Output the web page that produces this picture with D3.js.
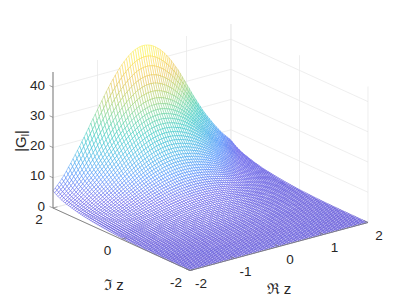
<!DOCTYPE html>
<html><head><meta charset="utf-8">
<style>html,body{margin:0;padding:0;background:#fff}svg{display:block}text{font-family:"Liberation Sans",sans-serif;font-size:13.5px;fill:#262626}text.lab{font-size:15px}</style>
<script src="https://cdn.jsdelivr.net/npm/d3@7"></script></head><body>
<script>
const reTicks=[-2,-1,0,1,2];
const imTicks=[-2,0,2];
const zTicks=[0,10,20,30,40];
const edgeHeight=[5.7,6.4,7.2,8.0,8.9,9.9,11.0,12.2,13.3,14.5,15.7,
16.9,18.1,19.4,20.7,22.0,23.3,24.7,26.0,27.3,28.6,
29.9,31.2,32.5,33.8,35.0,36.2,37.3,38.4,39.4,40.4,
41.3,42.1,42.9,43.6,44.2,44.7,45.1,45.4,45.6,45.7,
45.7,45.6,45.4,45.1,44.7,44.2,43.6,43.0,42.2,41.4,
40.5,39.5,38.4,37.2,36.0,34.8,33.4,32.0,30.6,29.1,
27.7,26.2,24.8,23.4,22.0,20.7,19.4,18.2,17.0,15.9,
14.8,13.7,12.7,11.7,10.7,9.8,9.0,8.2,7.4,6.6];
// relative height falling away from that edge, Im z = -2 ... 2
const falloff=[.002,.002,.003,.003,.003,.004,.004,.004,.005,.005,.006,
.006,.007,.007,.008,.009,.010,.011,.012,.013,.015,
.016,.018,.019,.021,.023,.025,.028,.031,.034,.037,
.041,.045,.049,.053,.057,.062,.067,.072,.078,.085,
.090,.096,.103,.110,.118,.126,.135,.144,.154,.164,
.175,.186,.198,.210,.223,.236,.250,.265,.280,.296,
.313,.331,.350,.371,.393,.416,.441,.467,.494,.522,
.551,.581,.613,.650,.695,.745,.800,.860,.925,1.0];
const parula=["#3a2cd0","#4743e8","#2e7ffa","#1ca8df","#15c0b8","#51cc8a","#a5c94f","#e6b935","#fcd52d","#f9fb15"];

const W=407,H=305;
const svg=d3.select("body").append("svg").attr("width",W).attr("height",H);
const xRe=d3.scaleLinear([-2,2],[0,178]), yRe=d3.scaleLinear([-2,2],[0,-48]);
const xIm=d3.scaleLinear([2,-2],[0,137]), yIm=d3.scaleLinear([2,-2],[0,62.5]);
const yZ=d3.scaleLinear([0,45],[0,-136]);
const X=(r,i)=>53+xRe(r)+xIm(i);
const Y=(r,i,z)=>208+yRe(r)+yIm(i)+yZ(z);
const reAt=d3.scaleLinear([0,edgeHeight.length-1],[-2,2]);
const imAt=d3.scaleLinear([0,falloff.length-1],[-2,2]);
const color=d3.scaleLinear().domain(d3.range(parula.length).map(k=>k/(parula.length-1)*45.7)).range(parula);
const H3=(i,j)=>edgeHeight[i]*falloff[j];

function seg(g,a,b,stroke,w){
  g.append("line").attr("x1",X(a[0],a[1])).attr("y1",Y(a[0],a[1],a[2])).attr("x2",X(b[0],b[1])).attr("y2",Y(b[0],b[1],b[2]))
   .attr("stroke",stroke).attr("stroke-width",w);
}
const grid=svg.append("g");
const gc="#e6e6e6";
zTicks.forEach(z=>{seg(grid,[-2,2,z],[2,2,z],gc,.7);seg(grid,[2,2,z],[2,-2,z],gc,.7);});
reTicks.forEach(r=>{seg(grid,[r,2,0],[r,2,45],gc,.7);seg(grid,[r,2,0],[r,-2,0],gc,.7);});
imTicks.forEach(i=>{seg(grid,[2,i,0],[2,i,45],gc,.7);seg(grid,[-2,i,0],[2,i,0],gc,.7);});

// surface, painted from the back corner to the front
const cells=[];
for(let j=falloff.length-2;j>=0;j--)for(let i=edgeHeight.length-2;i>=0;i--)cells.push([i,j]);
const P=(i,j)=>[X(reAt(i),imAt(j)),Y(reAt(i),imAt(j),H3(i,j))];
const line=d3.line();
svg.append("g").selectAll("path").data(cells).join("path")
 .attr("d",([i,j])=>line([P(i,j),P(i+1,j),P(i+1,j+1),P(i,j+1)])+"Z")
 .attr("fill","#fff")
 .attr("stroke",([i,j])=>color((H3(i,j)+H3(i+1,j)+H3(i+1,j+1)+H3(i,j+1))/4))
 .attr("stroke-width",.42);

// axes
const ax=svg.append("g");
const ac="#7a7a7a";
seg(ax,[-2,2,0],[-2,2,45],ac,1);
seg(ax,[-2,2,0],[-2,-2,0],ac,.9);
seg(ax,[-2,-2,0],[2,-2,0],ac,.9);
zTicks.forEach(z=>seg(ax,[-2,2,z],[-2,2.1,z],ac,.7));
reTicks.forEach(r=>seg(ax,[r,-2,0],[r,-1.88,0],ac,.7));
imTicks.forEach(i=>seg(ax,[-2,i,0],[-1.9,i,0],ac,.7));

const T=(x,y,s,a)=>svg.append("text").attr("x",x).attr("y",y).attr("text-anchor",a||"middle").text(s);
zTicks.forEach(z=>T(45,Y(-2,2,z)+2.5,z,"end"));
imTicks.forEach(i=>T(X(-2,i)-14,Y(-2,i,0)+16,i));
reTicks.forEach(r=>T(X(r,-2)+11,Y(r,-2,0)+17,r));
T(114,290,"\u2111 z").attr("class","lab");
T(279,294,"\u211c z").attr("class","lab");
const yl=svg.append("text").attr("class","lab").attr("transform","translate(26,141) rotate(-90)").attr("text-anchor","middle");
yl.append("tspan").text("|G");
yl.append("tspan").attr("dy",2.5).style("font-size","10px").text("l");
yl.append("tspan").attr("dy",-2.5).text("|");
</script></body></html>
